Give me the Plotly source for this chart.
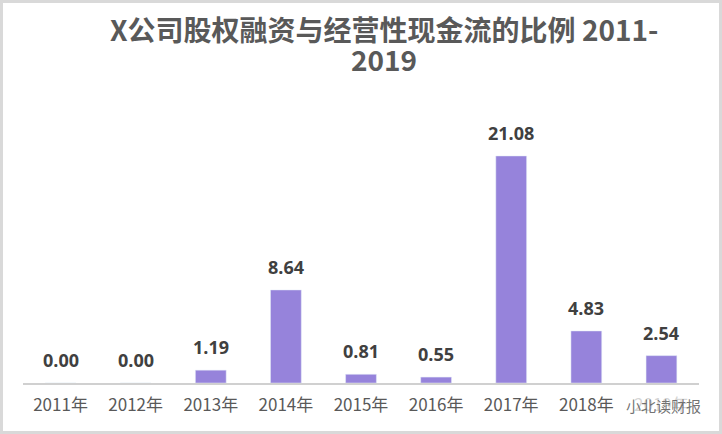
import plotly.graph_objects as go

categories = ["2011年", "2012年", "2013年", "2014年", "2015年", "2016年", "2017年", "2018年", "2019年"]
values = [0.00, 0.00, 1.19, 8.64, 0.81, 0.55, 21.08, 4.83, 2.54]
title_lines = ["X公司股权融资与经营性现金流的比例 2011-", "2019"]
watermark = "小北读财报"

W, H = 722, 434
ml, mr, mt, mb = 23, 23, 80, 51
pw, ph = W - ml - mr, H - mt - mb

fig = go.Figure()
fig.add_trace(go.Bar(x=categories, y=values, marker_color="#9683db", width=0.41, hoverinfo="skip"))

for c, v in zip(categories, values):
    fig.add_annotation(x=c, y=v, text=f"<b>{v:.2f}</b>", showarrow=False, yanchor="middle", yshift=23,
                       font=dict(size=18, color="#404040", family="Open Sans, Noto Sans CJK SC"))

# title: two lines with tight spacing
for line, yc in zip(title_lines, [29, 59]):
    fig.add_annotation(xref="paper", yref="paper", x=(384 - ml) / pw, y=1 + (mt - yc) / ph,
                       text=f"<b>{line}</b>", showarrow=False, xanchor="center", yanchor="middle",
                       font=dict(size=28, color="#595959", family="Noto Sans CJK SC"))

fig.add_annotation(xref="paper", yref="paper", x=(663 - ml) / pw, y=-(405 - mt - ph) / ph, text=watermark,
                   showarrow=False, xanchor="center", yanchor="middle", bgcolor="rgba(255,255,255,0.75)",
                   font=dict(size=15, color="rgba(90,90,90,0.85)", family="Noto Sans CJK SC"))

fig.add_shape(type="rect", xref="paper", yref="paper", x0=-(ml - 1.5) / pw, x1=1 + (mr - 1.5) / pw,
              y0=-(mb - 1.5) / ph, y1=1 + (mt - 1.5) / ph, line=dict(color="#d9d9d9", width=3), layer="above")

fig.update_layout(
    width=W, height=H, margin=dict(l=ml, r=mr, t=mt, b=mb),
    paper_bgcolor="white", plot_bgcolor="white", showlegend=False,
    xaxis=dict(showline=True, linecolor="#d0d0d0", linewidth=2, ticks="", showgrid=False,
               tickfont=dict(size=17, color="#595959", family="Noto Sans CJK SC"), ticklabelstandoff=6),
    yaxis=dict(range=[0, ph / 10.77], visible=False, showgrid=False, zeroline=False),
)

fig.write_html("out.html", config={"displayModeBar": False},
               post_script="document.body.style.margin='0';document.body.style.overflow='hidden';")
